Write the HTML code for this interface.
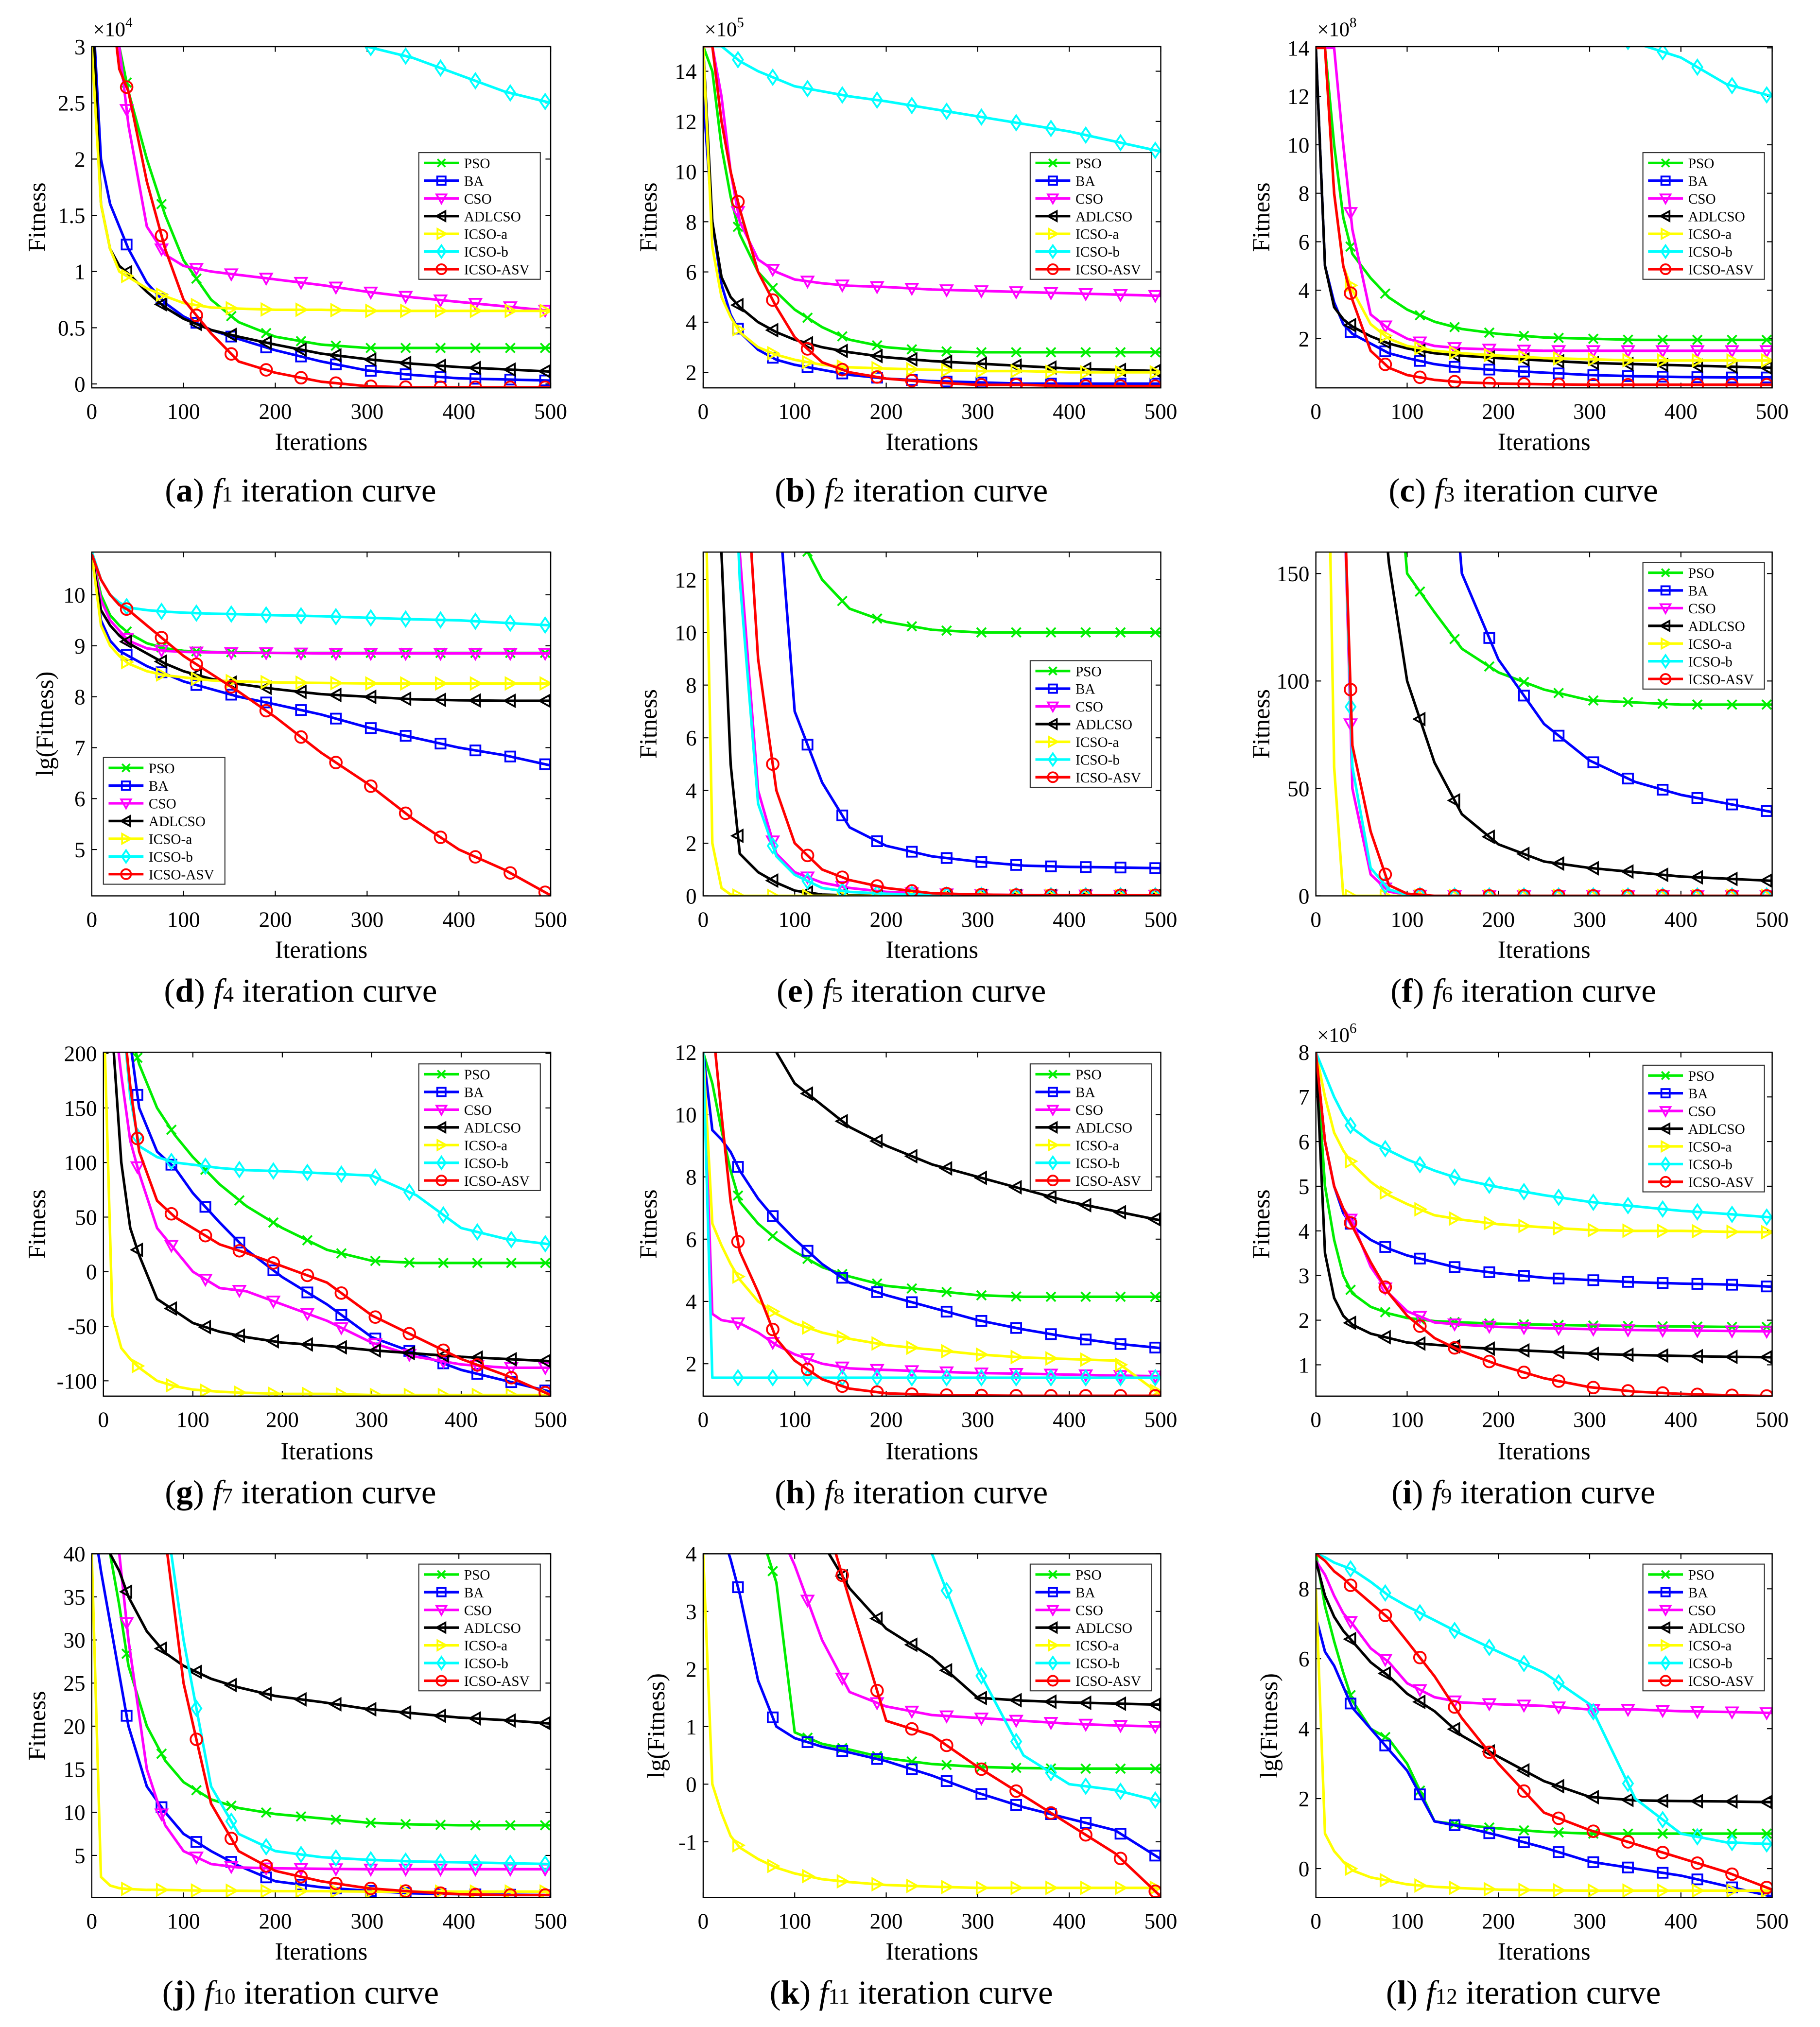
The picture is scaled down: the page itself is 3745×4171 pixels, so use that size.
<!DOCTYPE html>
<html>
<head>
<meta charset="utf-8">
<style>
html,body{margin:0;padding:0;background:#fff;}
svg{display:block;}
text{font-family:"Liberation Serif",serif;fill:#000;}
</style>
</head>
<body>
<svg id="fig" xmlns="http://www.w3.org/2000/svg" width="3745" height="4171" viewBox="0 0 1408 1568">
<rect x="0" y="0" width="1408" height="1568" fill="#fff"/>
</svg>
<script>
const ITER = [0,10,20,30,40,60,80,100,130,160,200,250,300,350,400,450,500];
const SERIES_NAMES = ['PSO','BA','CSO','ADLCSO','ICSO-a','ICSO-b','ICSO-ASV'];
const MARKER_ITERS = [38,76,114,152,190,228,266,304,342,380,418,456,494];

const f1_series = [
 [4,3.5,3.2,3.0,2.6,2.0,1.5,1.1,0.75,0.55,0.42,0.35,0.32,0.32,0.32,0.32,0.32],
 [3.5,2.0,1.6,1.4,1.2,0.9,0.72,0.6,0.48,0.4,0.3,0.2,0.12,0.08,0.05,0.04,0.03],
 [4,4,4,3,2.3,1.4,1.15,1.05,1.0,0.97,0.93,0.88,0.82,0.77,0.73,0.69,0.65],
 [3.5,1.6,1.2,1.05,0.98,0.82,0.68,0.58,0.48,0.42,0.35,0.27,0.22,0.18,0.15,0.13,0.11],
 [3,1.6,1.2,1.0,0.95,0.85,0.78,0.72,0.68,0.67,0.66,0.66,0.65,0.65,0.65,0.65,0.65],
 [10,9,8.5,8,7.5,7,6.5,6,5.5,5,4.5,3.6,3.0,2.9,2.75,2.6,2.5],
 [4,4,3.5,2.8,2.6,1.8,1.2,0.75,0.45,0.2,0.1,0.02,-0.02,-0.03,-0.03,-0.03,-0.03]
];
const f2_series = [
 [15,14,11,9,7.5,6,5.2,4.5,3.8,3.3,3.0,2.85,2.8,2.8,2.8,2.8,2.8],
 [13,8,5.5,4.3,3.6,2.9,2.5,2.3,2.1,1.9,1.75,1.65,1.6,1.55,1.55,1.55,1.55],
 [15,15,13,10,8,6.5,6.0,5.7,5.55,5.45,5.4,5.3,5.25,5.2,5.15,5.1,5.05],
 [15,8,5.8,5,4.6,4.0,3.6,3.3,3.0,2.8,2.6,2.45,2.35,2.25,2.15,2.1,2.05],
 [15,7,5,4.2,3.6,3.0,2.7,2.5,2.3,2.2,2.15,2.1,2.05,2.05,2.0,2.0,2.0],
 [15,15,15,14.7,14.4,14,13.7,13.4,13.2,13,12.8,12.5,12.2,11.9,11.6,11.2,10.8],
 [15,15,12,10,8.5,6,4.6,3.4,2.4,2.0,1.75,1.6,1.5,1.5,1.45,1.45,1.45]
];
const f3_series = [
 [14,14,10,7,5.5,4.5,3.7,3.2,2.7,2.4,2.2,2.05,2.0,1.95,1.95,1.95,1.95],
 [14,5,3.5,2.6,2.2,1.8,1.4,1.2,0.95,0.8,0.7,0.6,0.5,0.45,0.42,0.4,0.4],
 [14,14,14,10,6.5,3,2.4,2.0,1.7,1.6,1.55,1.5,1.5,1.5,1.5,1.5,1.5],
 [14,5,3.3,2.8,2.5,2.1,1.8,1.6,1.4,1.3,1.2,1.1,1.0,0.95,0.9,0.85,0.8],
 [14,14,8,5,4,2.6,2.0,1.7,1.5,1.4,1.3,1.2,1.15,1.1,1.1,1.1,1.1],
 [30,28,26,24,22,20,19,18,17,16.5,15.8,15,14.6,14.2,13.6,12.5,12],
 [14,14,8,5,3.6,1.5,0.8,0.5,0.3,0.2,0.15,0.12,0.1,0.1,0.1,0.1,0.1]
];
const f4_series = [
 [10.8,10,9.6,9.4,9.25,9.05,8.95,8.9,8.88,8.87,8.86,8.86,8.86,8.86,8.86,8.86,8.86],
 [10.8,9.5,9.1,8.9,8.8,8.6,8.45,8.3,8.15,8.0,7.85,7.65,7.4,7.2,7.0,6.85,6.65],
 [10.8,9.9,9.5,9.3,9.1,8.95,8.9,8.88,8.87,8.86,8.86,8.85,8.85,8.85,8.85,8.85,8.85],
 [10.8,9.7,9.4,9.2,9.05,8.85,8.65,8.5,8.35,8.25,8.15,8.05,8.0,7.95,7.93,7.92,7.92],
 [10.8,9.4,9.0,8.8,8.65,8.5,8.42,8.38,8.32,8.3,8.28,8.27,8.26,8.26,8.26,8.26,8.26],
 [10.85,10.3,10.0,9.85,9.75,9.7,9.67,9.65,9.63,9.62,9.6,9.58,9.55,9.52,9.5,9.45,9.4],
 [10.8,10.3,10.0,9.8,9.7,9.4,9.1,8.8,8.45,8.1,7.6,6.9,6.3,5.6,5.0,4.6,4.1]
];
const f5_series = [
 [20,20,20,20,20,20,20,14,12.0,10.9,10.4,10.1,10.0,10,10,10,10],
 [20,20,20,20,20,20,16,7,4.3,2.6,1.9,1.5,1.3,1.15,1.1,1.08,1.05],
 [20,20,20,20,13,4,1.6,0.9,0.5,0.3,0.15,0.08,0.05,0.03,0.03,0.02,0.02],
 [20,20,13,5,1.6,0.9,0.5,0.2,0.05,0.02,0,0,0,0,0,0,0],
 [20,2,0.3,0.05,0,0,0,0,0,0,0,0,0,0,0,0,0],
 [20,20,20,20,12,3.5,1.5,0.8,0.3,0.15,0.08,0.04,0.02,0.01,0.01,0.01,0.01],
 [20,20,20,20,20,9,4,2.0,1.0,0.6,0.3,0.1,0.05,0.03,0.02,0.02,0.02]
];
const f6_series = [
 [300,300,300,300,300,300,250,150,132,115,104,96,91,90,89,89,89],
 [300,300,300,300,300,300,300,300,300,150,110,80,63,53,47,43,39],
 [300,300,300,200,50,10,2,0.5,0,0,0,0,0,0,0,0,0],
 [300,300,300,300,300,250,155,100,62,38,24,16,13,11,9,8,7],
 [300,300,60,0,0,0,0,0,0,0,0,0,0,0,0,0,0],
 [300,300,300,200,60,13,3,0.5,0,0,0,0,0,0,0,0,0],
 [300,300,300,200,70,30,5,1,0,0,0,0,0,0,0,0,0]
];
const f7_series = [
 [250,250,250,220,190,150,125,105,80,60,40,20,10,8,8,8,8],
 [250,250,250,210,150,110,95,72,45,20,-5,-30,-60,-75,-90,-100,-110],
 [250,250,180,120,90,40,20,0,-15,-18,-30,-45,-65,-78,-85,-88,-88],
 [250,220,100,40,15,-25,-36,-47,-55,-60,-65,-68,-72,-75,-78,-80,-82],
 [250,-40,-70,-80,-88,-100,-105,-108,-110,-111,-112,-112,-113,-113,-113,-113,-113],
 [250,250,250,160,115,105,100,98,95,93,92,90,88,70,40,30,25],
 [250,250,250,170,110,65,50,40,25,17,5,-10,-40,-60,-80,-95,-113]
];
const f8_series = [
 [12,11,9.5,8.2,7.2,6.5,6.0,5.6,5.1,4.8,4.5,4.35,4.2,4.15,4.15,4.15,4.15],
 [12,9.5,9.2,8.8,8.2,7.3,6.6,6.0,5.2,4.6,4.2,3.8,3.4,3.1,2.85,2.65,2.5],
 [12,3.6,3.4,3.35,3.3,3.0,2.6,2.3,2.0,1.85,1.8,1.75,1.7,1.68,1.65,1.62,1.6],
 [13,13,13,13,13,13,12,11,10.3,9.6,9,8.4,8.0,7.6,7.2,6.9,6.6],
 [12,6.5,5.8,5.2,4.7,4.0,3.6,3.3,3.0,2.8,2.6,2.45,2.3,2.2,2.15,2.1,1.0],
 [12,1.55,1.55,1.55,1.55,1.55,1.55,1.55,1.55,1.55,1.55,1.55,1.55,1.55,1.55,1.55,1.55],
 [13,13,10,7.2,5.6,4.3,2.8,2.1,1.5,1.2,1.05,1.0,0.98,0.97,0.97,0.97,0.97]
];
const f9_series = [
 [8,5,3.8,3.0,2.6,2.3,2.15,2.05,1.98,1.95,1.92,1.9,1.88,1.87,1.86,1.85,1.85],
 [8,6,5,4.4,4.1,3.8,3.6,3.45,3.3,3.15,3.05,2.95,2.9,2.85,2.82,2.8,2.75],
 [8,6,5,4.5,4.2,3.2,2.6,2.2,1.95,1.9,1.85,1.82,1.8,1.78,1.77,1.76,1.75],
 [8,3.5,2.5,2.1,1.9,1.7,1.6,1.5,1.45,1.4,1.35,1.3,1.25,1.22,1.2,1.18,1.17],
 [8,7,6.2,5.8,5.5,5.1,4.8,4.6,4.35,4.25,4.15,4.08,4.02,4.0,4.0,3.98,3.97],
 [8,7.5,7,6.6,6.3,6.0,5.8,5.6,5.35,5.15,4.98,4.8,4.65,4.55,4.45,4.38,4.3],
 [8,6,5,4.5,4.1,3.3,2.6,2.1,1.6,1.3,1.0,0.7,0.5,0.4,0.35,0.32,0.3]
];
const f10_series = [
 [50,45,40,34,27,20,16,13.5,11.5,10.5,9.8,9.3,8.8,8.6,8.5,8.5,8.5],
 [45,38,32,26,20,13,10,7.5,5.5,3.8,2,1.3,0.9,0.6,0.5,0.45,0.4],
 [50,50,50,40,30,15,8.5,5.5,4,3.6,3.5,3.45,3.4,3.4,3.4,3.4,3.4],
 [50,45,40,38,35,31,28.5,27,25.5,24.5,23.5,22.8,22,21.5,21,20.7,20.3],
 [40,2.5,1.5,1.2,1.1,1.0,1.0,0.95,0.9,0.9,0.85,0.85,0.8,0.8,0.8,0.8,0.8],
 [60,60,60,60,55,50,45,30,13,7.5,5.5,4.8,4.5,4.3,4.2,4.1,4.0],
 [60,60,60,60,60,55,42,25,11,5.5,3.2,2.0,1.2,0.8,0.5,0.4,0.4]
];
const f11_series = [
 [6,6,6,6,5,4.5,3.5,0.9,0.7,0.6,0.45,0.35,0.3,0.28,0.27,0.27,0.27],
 [6,5,4.4,3.9,3.3,1.8,1.0,0.8,0.65,0.55,0.4,0.15,-0.15,-0.4,-0.6,-0.8,-1.3],
 [8,8,8,8,8,6,4.5,3.8,2.5,1.6,1.35,1.2,1.15,1.1,1.05,1.02,1.0],
 [8,8,8,8,8,8,8,6,4.2,3.4,2.7,2.2,1.5,1.45,1.42,1.4,1.38],
 [4,0,-0.5,-0.9,-1.1,-1.3,-1.45,-1.55,-1.65,-1.7,-1.75,-1.78,-1.8,-1.8,-1.8,-1.8,-1.8],
 [10,10,10,10,9,8.5,8,7.5,7,6.5,5.5,4.0,2.0,0.5,0.0,-0.1,-0.3],
 [8,8,8,8,8,8,8,7,4.8,3.2,1.1,0.85,0.3,-0.2,-0.7,-1.2,-1.95]
];
const f12_series = [
 [9,7.5,6.5,5.6,4.8,4.0,3.7,3.0,1.35,1.25,1.15,1.05,1.0,1.0,1.0,1.0,1.0],
 [7.2,6.2,5.8,5.2,4.6,4.0,3.4,2.8,1.35,1.2,0.95,0.6,0.2,0.0,-0.2,-0.5,-0.8],
 [8.8,8.4,7.8,7.3,7.0,6.3,5.9,5.3,4.9,4.75,4.7,4.65,4.55,4.55,4.5,4.48,4.45],
 [8.8,7.8,7.2,6.8,6.5,5.9,5.5,5.0,4.5,3.8,3.2,2.5,2.05,1.95,1.93,1.92,1.9],
 [8,1.0,0.5,0.2,-0.05,-0.25,-0.35,-0.45,-0.52,-0.56,-0.6,-0.62,-0.63,-0.63,-0.63,-0.63,-0.63],
 [9,8.9,8.75,8.65,8.55,8.2,7.8,7.5,7.1,6.7,6.2,5.6,4.7,2.0,1.0,0.75,0.7],
 [9,8.8,8.5,8.3,8.05,7.6,7.15,6.5,5.5,4.3,3.0,1.6,1.1,0.7,0.3,-0.1,-0.6]
];

const f1_yticks = [0,0.5,1,1.5,2,2.5,3];
const f2_yticks = [2,4,6,8,10,12,14];
const f3_yticks = [2,4,6,8,10,12,14];
const f4_yticks = [5,6,7,8,9,10];
const f5_yticks = [0,2,4,6,8,10,12];
const f6_yticks = [0,50,100,150];
const f7_yticks = [-100,-50,0,50,100,150,200];
const f8_yticks = [2,4,6,8,10,12];
const f9_yticks = [1,2,3,4,5,6,7,8];
const f10_yticks = [5,10,15,20,25,30,35,40];
const f11_yticks = [-1,0,1,2,3,4];
const f12_yticks = [0,2,4,6,8];
const XTICKS = [0,100,200,300,400,500];

const COLORS = ['#00ee00','#0000ff','#ff00ff','#000000','#ffff00','#00ffff','#ff0000'];
const MARKERS = ['x','square','tridown','trileft','triright','diamond','circle'];

const NS = 'http://www.w3.org/2000/svg';
const svg = document.getElementById('fig');
function mk(tag, attrs, parent){
  const e = document.createElementNS(NS, tag);
  for (const k in attrs) e.setAttribute(k, attrs[k]);
  (parent||svg).appendChild(e);
  return e;
}
const COLS = [[71,426],[544,898],[1018,1371]];
const ROWS = [[36,300],[427,693],[814,1080],[1202,1468]];
const ROWTXT = [[324,348,388],[717,741,775],[1104,1129,1163],[1492,1516,1550]];

const panels = [
 {data:f1_series,yt:f1_yticks,ymin:-0.035,ymax:3,ylab:'Fitness',exp:'4',leg:[324,118]},
 {data:f2_series,yt:f2_yticks,ymin:1.38,ymax:14.98,ylab:'Fitness',exp:'5',leg:[797,118]},
 {data:f3_series,yt:f3_yticks,ymin:-0.03,ymax:14.05,ylab:'Fitness',exp:'8',leg:[1271,118]},
 {data:f4_series,yt:f4_yticks,ymin:4.09,ymax:10.84,ylab:'lg(Fitness)',leg:[80,586]},
 {data:f5_series,yt:f5_yticks,ymin:0,ymax:13.05,ylab:'Fitness',leg:[797,511]},
 {data:f6_series,yt:f6_yticks,ymin:0,ymax:160,ylab:'Fitness',leg:[1271,435]},
 {data:f7_series,yt:f7_yticks,ymin:-114,ymax:201,ylab:'Fitness',leg:[324,823],left:80},
 {data:f8_series,yt:f8_yticks,ymin:0.96,ymax:12,ylab:'Fitness',leg:[797,823]},
 {data:f9_series,yt:f9_yticks,ymin:0.3,ymax:8,ylab:'Fitness',exp:'6',leg:[1271,824]},
 {data:f10_series,yt:f10_yticks,ymin:0.1,ymax:40,ylab:'Fitness',leg:[324,1210]},
 {data:f11_series,yt:f11_yticks,ymin:-1.97,ymax:4,ylab:'lg(Fitness)',leg:[797,1210]},
 {data:f12_series,yt:f12_yticks,ymin:-0.83,ymax:9,ylab:'lg(Fitness)',leg:[1271,1210]}
];
const LETTERS = 'abcdefghijkl';

function interp(vals, t){
  for (let i=1;i<ITER.length;i++){
    if (t<=ITER[i]){
      const f=(t-ITER[i-1])/(ITER[i]-ITER[i-1]);
      return vals[i-1]+f*(vals[i]-vals[i-1]);
    }
  }
  return vals[vals.length-1];
}
function drawMarker(g, type, x, y, color, s){
  s = s||4.5;
  let e;
  const st = {fill:'none',stroke:color,'stroke-width':1.4};
  if (type==='x'){
    e = mk('path', Object.assign({d:`M${x-s*0.8},${y-s*0.8}L${x+s*0.8},${y+s*0.8}M${x-s*0.8},${y+s*0.8}L${x+s*0.8},${y-s*0.8}`},st), g);
  } else if (type==='square'){
    e = mk('rect', Object.assign({x:x-s*0.85,y:y-s*0.85,width:s*1.7,height:s*1.7},st), g);
  } else if (type==='tridown'){
    e = mk('polygon', Object.assign({points:`${x-s},${y-s*0.8} ${x+s},${y-s*0.8} ${x},${y+s}`},st), g);
  } else if (type==='trileft'){
    e = mk('polygon', Object.assign({points:`${x+s*0.8},${y-s} ${x+s*0.8},${y+s} ${x-s},${y}`},st), g);
  } else if (type==='triright'){
    e = mk('polygon', Object.assign({points:`${x-s*0.8},${y-s} ${x-s*0.8},${y+s} ${x+s},${y}`},st), g);
  } else if (type==='diamond'){
    e = mk('polygon', Object.assign({points:`${x},${y-s*1.25} ${x+s*0.85},${y} ${x},${y+s*1.25} ${x-s*0.85},${y}`},st), g);
  } else {
    e = mk('circle', Object.assign({cx:x,cy:y,r:s},st), g);
  }
  
  
  return e;
}

panels.forEach((p, pi)=>{
  const col = pi%3, row = Math.floor(pi/3);
  const L = p.left || COLS[col][0], R = COLS[col][1];
  const T = ROWS[row][0], B = ROWS[row][1];
  const xs = t => L + (t/500)*(R-L);
  const ys = v => B - (v-p.ymin)/(p.ymax-p.ymin)*(B-T);
  const g = mk('g', {});
  
  

  const cp = mk('clipPath', {id:'clip'+pi}, g);
  mk('rect', {x:L, y:T, width:R-L, height:B-T}, cp);

  const bg = mk('rect', {x:L,y:T,width:R-L,height:B-T,fill:'#fff'}, g);
  
  

  XTICKS.forEach(t=>{
    const x = xs(t);
    const tk = mk('path', {d:`M${x},${B}V${B-4}M${x},${T}V${T+4}`, stroke:'#000','stroke-width':0.8,fill:'none'}, g);
    
    
    const lb = mk('text', {x:x, y:ROWTXT[row][0], 'font-size':17, 'text-anchor':'middle'}, g);
    lb.textContent = String(t);
    
    
  });
  p.yt.forEach(v=>{
    const y = ys(v);
    const tk = mk('path', {d:`M${L},${y}H${L+4}M${R},${y}H${R-4}`, stroke:'#000','stroke-width':0.8,fill:'none'}, g);
    
    
    const lb = mk('text', {x:L-5, y:y+6, 'font-size':17, 'text-anchor':'end'}, g);
    lb.textContent = String(v);
    
    
  });

  const sg = mk('g', {'clip-path':`url(#clip${pi})`}, g);
  
  
  p.data.forEach((vals, si)=>{
    const pts = ITER.map((t,i)=>`${xs(t).toFixed(2)},${ys(vals[i]).toFixed(2)}`).join(' ');
    const pl = mk('polyline', {points:pts, fill:'none', stroke:COLORS[si], 'stroke-width':2, 'stroke-linejoin':'round'}, sg);
    
    
    MARKER_ITERS.forEach(t=>{
      drawMarker(sg, MARKERS[si], xs(t), ys(interp(vals, t)), COLORS[si]);
    });
  });

  const box = mk('rect', {x:L,y:T,width:R-L,height:B-T,fill:'none',stroke:'#000','stroke-width':0.9}, g);
  
  

  if (p.exp){
    const ex = mk('text', {x:L+1, y:T-8, 'font-size':16}, g);
    ex.textContent = '×10';
    
    
    const ts = mk('tspan', {'font-size':11, dy:-7}, ex);
    ts.textContent = p.exp;
  }

  const xl = mk('text', {x:(L+R)/2, y:ROWTXT[row][1], 'font-size':19, 'text-anchor':'middle'}, g);
  xl.textContent = 'Iterations';
  
  
  const ylx = (p.ylab==='Fitness') ? COLS[col][0]-36 : COLS[col][0]-30;
  const yl = mk('text', {x:ylx, y:(T+B)/2, 'font-size':19, 'text-anchor':'middle', transform:`rotate(-90 ${ylx} ${(T+B)/2})`}, g);
  yl.textContent = p.ylab;
  
  

  const lx = p.leg[0], ly = p.leg[1];
  const lg = mk('g', {}, g);
  
  
  const lr = mk('rect', {x:lx, y:ly, width:94, height:98, fill:'#fff', stroke:'#333', 'stroke-width':0.8}, lg);
  
  
  SERIES_NAMES.forEach((n, si)=>{
    const yy = ly + 8 + si*13.7;
    const ln = mk('line', {x1:lx+4, x2:lx+31, y1:yy, y2:yy, stroke:COLORS[si], 'stroke-width':2}, lg);
    
    
    drawMarker(lg, MARKERS[si], lx+17.5, yy, COLORS[si], 3.8);
    const tx = mk('text', {x:lx+35, y:yy+4, 'font-size':11}, lg);
    tx.textContent = n;
    
    
  });

  const cx = (COLS[col][0]+R)/2 - 16;
  const cap = mk('text', {x:cx, y:ROWTXT[row][2], 'font-size':26, 'text-anchor':'middle'}, g);
  
  
  const t1 = mk('tspan', {}, cap); t1.textContent = '(';
  const t2 = mk('tspan', {'font-weight':'bold'}, cap); t2.textContent = LETTERS[pi];
  const t3 = mk('tspan', {}, cap); t3.textContent = ') ';
  const t4 = mk('tspan', {'font-style':'italic'}, cap); t4.textContent = 'f';
  const t5 = mk('tspan', {'font-size':17}, cap); t5.textContent = String(pi+1);
  const t6 = mk('tspan', {}, cap); t6.textContent = ' iteration curve';
});
</script>
</body>
</html>
